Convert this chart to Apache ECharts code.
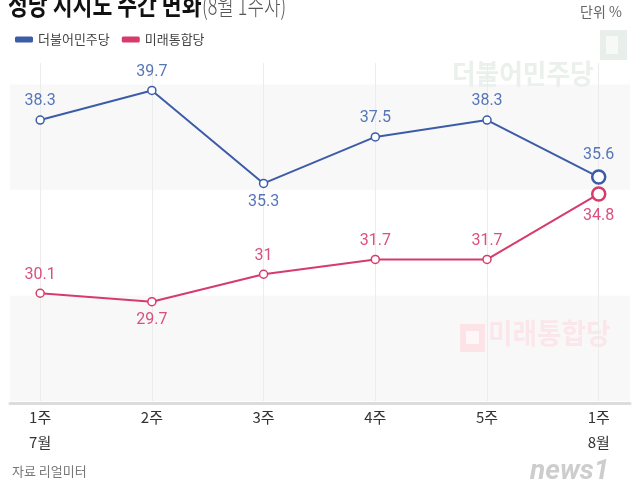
<!DOCTYPE html>
<html><head><meta charset="utf-8">
<script src="https://cdn.jsdelivr.net/npm/echarts@6/dist/echarts.min.js"></script>
<style>html,body{margin:0;padding:0;background:#fff}#c{width:640px;height:480px}</style>
</head><body><div id="c"></div>
<script>
const categories = ['1주\n7월', '2주', '3주', '4주', '5주', '1주\n8월'];
const seriesNames = ['더불어민주당', '미래통합당'];
const minjoo = [38.3, 39.7, 35.3, 37.5, 38.3, 35.6];
const tonghap = [30.1, 29.7, 31, 31.7, 31.7, 34.8];
const minjooLabelPos = ['top', 'top', 'bottom', 'top', 'top', 'top'];
const tonghapLabelPos = ['top', 'bottom', 'top', 'top', 'top', 'bottom'];

const BLUE = '#3d5ca8', BLUE_L = '#5676b6';
const PINK = '#d63b6b', PINK_L = '#d9507e';
const FONT = '"Noto Sans CJK KR", "Noto Sans", sans-serif';

function build(vals, pos, color) {
  return vals.map((v, i) => {
    const last = i === vals.length - 1;
    return {
      value: [i, v],
      symbolSize: last ? 13 : 8,
      itemStyle: { color: '#fff', borderColor: color, borderWidth: last ? 2.5 : 1.5 },
      label: { position: pos[i] }
    };
  });
}

const chart = echarts.init(document.getElementById('c'));
chart.setOption({
  animation: false,
  backgroundColor: '#fff',
  textStyle: { fontFamily: FONT },
  legend: {
    left: 10, top: 28, itemWidth: 18, itemHeight: 6, itemGap: 12, icon: 'roundRect',
    textStyle: { fontSize: 13, color: '#444', fontFamily: FONT },
    data: [
      { name: seriesNames[0], itemStyle: { color: BLUE, borderWidth: 0 } },
      { name: seriesNames[1], itemStyle: { color: PINK, borderWidth: 0 } }
    ]
  },
  grid: { left: 10, right: 10, top: 63, bottom: 79 },
  xAxis: {
    type: 'value', min: -0.27, max: 5.28, offset: 2,
    axisLine: { show: true, lineStyle: { color: '#dcdcdc', width: 3 } },
    axisTick: { show: false, customValues: [0, 1, 2, 3, 4, 5] },
    splitLine: { show: false },
    axisLabel: {
      customValues: [0, 1, 2, 3, 4, 5],
      formatter: v => categories[Math.round(v)],
      color: '#333', fontSize: 15, lineHeight: 25, margin: 2, fontFamily: FONT
    }
  },
  yAxis: {
    type: 'value', min: 25, max: 41, interval: 5,
    axisLine: { show: false }, axisTick: { show: false }, axisLabel: { show: false },
    splitLine: { show: false },
    splitArea: { show: true, areaStyle: { color: ['#f8f8f8', '#ffffff'] } }
  },
  series: [
    {
      name: 'grid-lines', type: 'line', data: [], z: 1, silent: true,
      markLine: {
        z: 1, silent: true, symbol: 'none', label: { show: false },
        lineStyle: { color: '#ececec', width: 1, type: 'solid' },
        data: categories.map((c, i) => ({ xAxis: i }))
      }
    },
    {
      name: seriesNames[0], type: 'line', symbol: 'circle', color: BLUE,
      data: build(minjoo, minjooLabelPos, BLUE),
      lineStyle: { color: BLUE, width: 2 },
      label: { show: true, color: BLUE_L, fontSize: 16, distance: 6, fontFamily: 'Roboto, sans-serif',
        formatter: p => p.value[1] },
      z: 3
    },
    {
      name: seriesNames[1], type: 'line', symbol: 'circle', color: PINK,
      data: build(tonghap, tonghapLabelPos, PINK),
      lineStyle: { color: PINK, width: 2 },
      label: { show: true, color: PINK_L, fontSize: 16, distance: 6, fontFamily: 'Roboto, sans-serif',
        formatter: p => p.value[1] },
      z: 3
    }
  ],
  graphic: [
    { type: 'text', x: 8, y: -9, z: 10, scaleX: 0.8,
      style: { text: '정당 지지도 주간 변화', font: 'bold 27px ' + FONT, fill: '#111' } },
    { type: 'text', x: 202, y: -7, z: 10, scaleX: 0.72,
      style: { text: '(8월 1주차)', font: '300 25px ' + FONT, fill: '#555' } },
    { type: 'text', x: 580, y: 5, z: 10,
      style: { text: '단위 %', font: '14px ' + FONT, fill: '#666' } },
    // watermarks
    { type: 'rect', z: 1, shape: { x: 600, y: 30, width: 27, height: 30 }, style: { fill: '#e8eee9' } },
    { type: 'rect', z: 1, shape: { x: 606, y: 36, width: 12, height: 18 }, style: { fill: '#f6f9f7' } },
    { type: 'text', x: 452, y: 60, z: 1, scaleX: 0.95,
      style: { text: '더불어민주당', font: 'bold 27px ' + FONT, fill: '#eaf0eb' } },
    { type: 'rect', z: 1, shape: { x: 460, y: 324, width: 25, height: 28 }, style: { fill: '#fbe3e8' } },
    { type: 'rect', z: 1, shape: { x: 466, y: 331, width: 13, height: 13 }, style: { fill: '#fff6f8' } },
    { type: 'text', x: 488, y: 319, z: 1, scaleX: 0.95,
      style: { text: '미래통합당', font: 'bold 28px ' + FONT, fill: '#fbe7eb' } },
    { type: 'text', x: 12, y: 465, z: 10,
      style: { text: '자료 리얼미터', font: '13px ' + FONT, fill: '#777' } },
    { type: 'text', x: 530, y: 458, z: 10,
      style: { text: 'news1', font: 'italic bold 28px Roboto, sans-serif', fill: '#cdcdcd' } }
  ]
});
</script></body></html>
